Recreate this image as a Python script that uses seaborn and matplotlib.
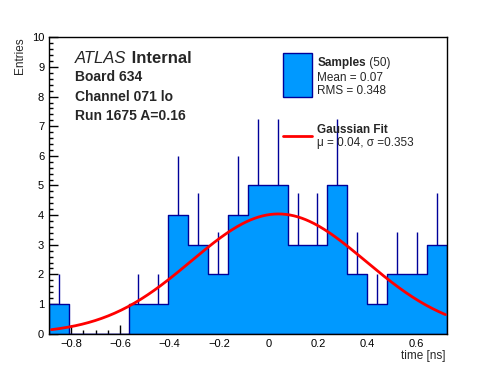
## timing histogram for one channel with a gaussian fit (ROOT / ATLAS style look)
import numpy as np
import pandas as pd
import matplotlib
matplotlib.use("Agg")
import matplotlib.pyplot as plt
from matplotlib.patches import Rectangle
from matplotlib.ticker import MultipleLocator, FuncFormatter
import seaborn as sns

# histogram data
counts = [1, 0, 0, 0, 1, 1, 4, 3, 2, 4, 5, 5, 3, 3, 5, 2, 1, 2, 2, 3]
x_min = -0.889
x_max = 0.7215
n_bins = 20

# gaussian fit parameters shown in the legend
fit_mu = 0.04
fit_sigma = 0.353
fit_amp = 4.04

# labels
atlas_lines = ["Board 634", "Channel 071 lo", "Run 1675 A=0.16"]
samples_label = "Samples"
samples_n = "(50)"
samples_stats = ["Mean = 0.07", "RMS = 0.348"]
fit_label = "Gaussian Fit"
fit_stats = "\u03bc = 0.04, \u03c3 =0.353"

# colours
fill_col = "#0099ff"
edge_col = "#000099"
fit_col = "#ff0000"

sns.set_style("ticks")
plt.rcParams["font.family"] = ["Liberation Sans", "DejaVu Sans"]
plt.rcParams["axes.unicode_minus"] = True

edges = np.linspace(x_min, x_max, n_bins + 1)
centers = (edges[:-1] + edges[1:]) / 2
df = pd.DataFrame({"time": centers, "entries": counts})
err = np.sqrt(df["entries"])

fig = plt.figure(figsize=(4.96, 3.72), dpi=100)
ax = fig.add_axes([0.0988, 0.103, 0.8018, 0.7967])

# error bars first, the filled histogram hides the lower half
ax.errorbar(df["time"], df["entries"], yerr=err, fmt="none", ecolor=edge_col, elinewidth=1, capsize=0, zorder=0.5)
sns.histplot(data=df, x="time", weights="entries", bins=n_bins, binrange=(x_min, x_max), element="step", fill=True,
             color=fill_col, alpha=1, edgecolor=edge_col, linewidth=1, ax=ax, zorder=1)

# gaussian fit curve
x_fit = np.linspace(x_min + 0.01, x_max - 0.005, 300)
y_fit = fit_amp * np.exp(-0.5 * ((x_fit - fit_mu) / fit_sigma) ** 2)
sns.lineplot(x=x_fit, y=y_fit, color=fit_col, linewidth=2, ax=ax, zorder=3)

ax.set_xlim(x_min, x_max)
ax.set_ylim(0, 10)
ax.set_xlabel("")
ax.set_ylabel("")

# ROOT style ticks
ax.xaxis.set_major_locator(MultipleLocator(0.2))
ax.xaxis.set_minor_locator(MultipleLocator(0.05))
ax.yaxis.set_major_locator(MultipleLocator(1))
ax.yaxis.set_minor_locator(MultipleLocator(0.2))
def fmt_x(v, pos):
    if abs(v) < 1e-9:
        return "0"
    return f"{v:.1f}".replace("-", "\u2212")
ax.xaxis.set_major_formatter(FuncFormatter(fmt_x))
ax.tick_params(axis="both", which="both", direction="in", labelsize=8, colors="black", width=1)
ax.tick_params(axis="both", which="major", length=6.2, pad=3.5)
ax.tick_params(axis="both", which="minor", length=3)
for sp in ax.spines.values():
    sp.set_visible(True)
    sp.set_color("black")
    sp.set_linewidth(1)

fig.text(0.040, 0.90, "Entries", rotation=90, ha="center", va="top", fontsize=8.5)
fig.text(0.899, 0.036, "time [ns]", ha="right", va="baseline", fontsize=8.5)

# ATLAS label block
t = ax.text(0.0654, 0.912, "ATLAS", transform=ax.transAxes, fontsize=12, style="italic", va="baseline")
ax.annotate(" Internal", xy=(1, 0), xycoords=t, xytext=(0, 0), textcoords="offset points",
            fontsize=12, fontweight="bold", va="bottom")
for i, line in enumerate(atlas_lines):
    ax.text(0.0654, 0.851 - i * 0.0655, line, transform=ax.transAxes, fontsize=10, fontweight="bold", va="baseline")

# hand made legend
ax.add_patch(Rectangle((0.589, 0.7996), 0.0714, 0.1464, transform=ax.transAxes,
                       facecolor=fill_col, edgecolor=edge_col, linewidth=1, zorder=4))
s = ax.text(0.675, 0.903, samples_label, transform=ax.transAxes, fontsize=8.5, fontweight="bold", va="baseline")
ax.annotate(" " + samples_n, xy=(1, 0), xycoords=s, xytext=(0, 0), textcoords="offset points",
            fontsize=8.5, va="bottom")
ax.text(0.675, 0.853, samples_stats[0], transform=ax.transAxes, fontsize=8.5, va="baseline")
ax.text(0.675, 0.809, samples_stats[1], transform=ax.transAxes, fontsize=8.5, va="baseline")
ax.plot([0.589, 0.661], [0.667, 0.667], transform=ax.transAxes, color=fit_col, linewidth=2, zorder=4)
ax.text(0.675, 0.677, fit_label, transform=ax.transAxes, fontsize=8.5, fontweight="bold", va="baseline")
ax.text(0.675, 0.633, fit_stats, transform=ax.transAxes, fontsize=8.5, va="baseline")

fig.savefig("out.png", dpi=100)
